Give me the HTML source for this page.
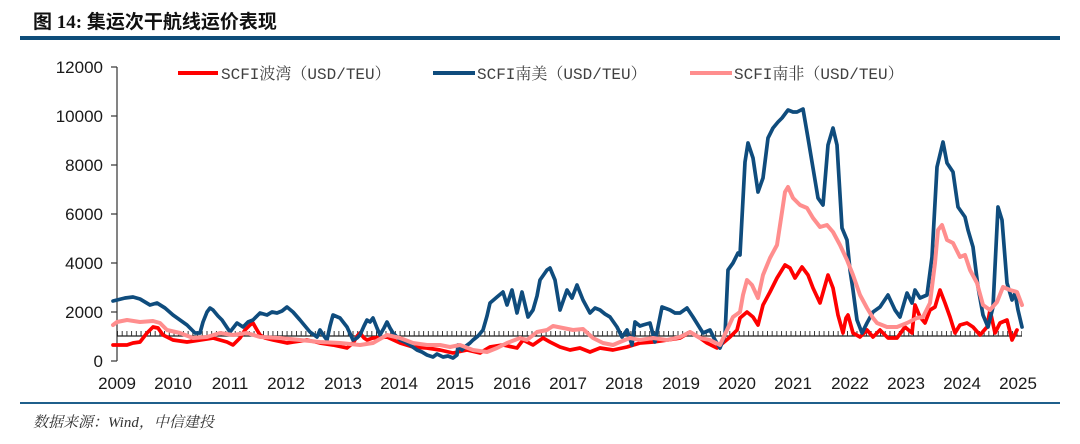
<!DOCTYPE html>
<html>
<head>
<meta charset="utf-8">
<style>
html,body{margin:0;padding:0;background:#fff;}
body{width:1080px;height:444px;overflow:hidden;}
svg{display:block;}
</style>
</head>
<body>
<svg width="1080" height="444" viewBox="0 0 1080 444" xmlns="http://www.w3.org/2000/svg">
<defs>
<pattern id="tk" patternUnits="userSpaceOnUse" x="117" y="331" width="4.71" height="5">
<line x1="0.5" y1="0" x2="0.5" y2="5" stroke="#222" stroke-width="0.9"/>
</pattern>
</defs>
<rect width="1080" height="444" fill="#fff"/>
<!-- title -->
<text x="33" y="28" font-family="'Liberation Serif','Noto Sans CJK SC',sans-serif" font-weight="bold" font-size="19" fill="#111">图 14: <tspan font-family="'Liberation Sans','Noto Sans CJK SC',sans-serif">集运次干航线运价表现</tspan></text>
<rect x="20" y="36" width="1040" height="4" fill="#0e4d7a"/>
<!-- legend -->
<g font-family="'Liberation Mono','Noto Serif CJK SC',monospace" font-size="16" fill="#404040">
<line x1="178" y1="73" x2="218" y2="73" stroke="#ff0000" stroke-width="4"/>
<text x="221" y="79">SCFI波湾（USD/TEU）</text>
<line x1="433" y1="73" x2="475" y2="73" stroke="#0f4c7d" stroke-width="4"/>
<text x="477" y="79">SCFI南美（USD/TEU）</text>
<line x1="690" y1="73" x2="732" y2="73" stroke="#ff8e8e" stroke-width="4"/>
<text x="734" y="79">SCFI南非（USD/TEU）</text>
</g>
<!-- y axis -->
<g stroke="#333" stroke-width="1.2">
<line x1="117" y1="67" x2="117" y2="361"/>
<line x1="111" y1="67" x2="117" y2="67"/>
<line x1="111" y1="116" x2="117" y2="116"/>
<line x1="111" y1="165" x2="117" y2="165"/>
<line x1="111" y1="214" x2="117" y2="214"/>
<line x1="111" y1="263" x2="117" y2="263"/>
<line x1="111" y1="312" x2="117" y2="312"/>
<line x1="111" y1="361" x2="117" y2="361"/>
</g>
<g font-family="'Liberation Sans',sans-serif" font-size="17" fill="#1a1a1a" text-anchor="end">
<text x="103" y="73">12000</text>
<text x="103" y="122">10000</text>
<text x="103" y="171">8000</text>
<text x="103" y="220">6000</text>
<text x="103" y="269">4000</text>
<text x="103" y="318">2000</text>
<text x="103" y="367">0</text>
</g>
<!-- x axis -->
<rect x="117" y="331" width="905" height="5" fill="url(#tk)"/>
<line x1="117" y1="336" x2="1022" y2="336" stroke="#222" stroke-width="1.3"/>
<g font-family="'Liberation Sans',sans-serif" font-size="17" fill="#1a1a1a" text-anchor="middle">
<text x="117" y="389">2009</text>
<text x="173" y="389">2010</text>
<text x="230" y="389">2011</text>
<text x="286" y="389">2012</text>
<text x="343" y="389">2013</text>
<text x="399" y="389">2014</text>
<text x="455" y="389">2015</text>
<text x="512" y="389">2016</text>
<text x="568" y="389">2017</text>
<text x="624" y="389">2018</text>
<text x="681" y="389">2019</text>
<text x="737" y="389">2020</text>
<text x="793" y="389">2021</text>
<text x="850" y="389">2022</text>
<text x="906" y="389">2023</text>
<text x="962" y="389">2024</text>
<text x="1018" y="389">2025</text>
</g>
<!-- series -->
<g fill="none" stroke-linejoin="round" stroke-linecap="round">
<polyline stroke="#ff0000" stroke-width="3.7" points="113,345 127,345 133,343 140,342 147,333 153,327 158,328 163,335 173,340 187,342 200,340 213,338 227,342 233,345 240,338 245,330 250,325 253,323 257,330 260,335 265,338 273,340 287,343 293,342 307,340 320,343 333,345 347,348 353,343 358,335 360,333 364,338 367,340 373,338 387,337 400,343 413,347 427,348 440,350 453,353 467,350 480,353 490,347 503,345 517,348 523,340 533,345 543,338 550,342 560,347 570,350 580,348 590,352 600,348 613,350 627,347 640,343 653,342 667,340 680,338 690,332 700,338 707,343 717,348 723,343 730,337 737,330 740,318 747,312 753,317 758,325 763,305 770,292 777,278 785,265 790,268 795,278 802,267 808,275 813,288 820,303 828,275 833,288 838,315 843,333 846,318 848,315 853,333 860,337 867,330 873,337 880,330 888,338 897,338 905,327 912,333 915,305 920,317 925,323 930,310 935,307 940,290 945,303 950,317 955,333 960,325 967,323 973,327 980,335 987,327 990,310 995,333 1000,323 1007,320 1012,340 1017,330"/>
<polyline stroke="#0f4c7d" stroke-width="3.7" points="113,301 117,300 125,298 133,297 140,299 150,305 157,303 165,308 173,315 180,320 187,325 195,333 200,333 203,322 207,312 210,308 213,310 218,316 222,320 230,332 237,323 243,327 248,322 253,320 260,313 267,315 272,312 277,313 282,311 287,307 293,312 300,320 305,326 310,332 317,337 320,330 324,336 327,340 330,326 333,315 340,318 347,327 353,340 357,338 360,335 364,326 367,320 370,322 373,318 377,328 380,335 384,328 387,322 390,328 393,333 400,340 405,342 410,345 417,350 422,352 427,355 433,357 437,354 443,357 448,356 453,358 457,355 458,345 462,350 466,346 470,343 473,340 478,336 483,330 487,316 490,303 497,297 503,292 507,305 512,290 517,313 522,292 528,317 533,310 537,296 540,280 547,270 550,268 555,280 560,310 567,290 572,298 577,285 583,300 590,313 595,308 600,310 605,314 610,317 617,327 622,337 627,330 632,345 635,322 640,326 643,325 650,323 655,342 662,307 670,310 675,313 680,313 687,308 693,317 698,325 703,333 710,330 715,340 720,348 725,335 728,270 733,263 738,253 740,255 745,162 748,143 753,158 758,192 763,178 768,138 773,128 778,122 782,118 788,110 793,112 797,112 803,109 808,138 813,168 818,198 823,205 828,145 833,128 837,145 842,228 847,240 850,270 853,290 857,320 862,333 867,323 873,312 880,307 888,295 895,310 900,317 907,293 912,303 915,290 920,298 927,295 932,257 937,167 943,142 947,163 953,172 958,207 965,217 968,230 973,247 978,287 983,315 988,327 993,307 998,207 1002,220 1007,283 1012,300 1015,293 1018,310 1022,327"/>
<polyline stroke="#ff8e8e" stroke-width="4" points="113,325 117,322 127,320 140,322 153,321 160,323 167,330 180,333 193,338 207,337 220,333 233,335 247,333 260,337 280,338 300,340 320,342 340,343 360,345 373,343 387,335 400,338 413,343 427,345 440,345 450,347 460,345 473,350 487,352 497,348 507,343 520,338 527,340 537,332 547,330 553,326 563,328 573,330 583,329 593,338 603,343 613,345 620,342 630,338 640,340 653,338 667,340 680,337 690,332 700,338 710,340 720,345 727,330 733,317 740,312 743,295 747,280 752,285 758,298 763,275 770,258 777,245 782,212 785,192 788,187 793,198 800,205 807,208 813,218 820,227 827,225 833,232 840,245 847,260 853,275 860,295 867,308 873,318 877,323 887,327 897,327 907,323 917,318 923,317 930,303 935,263 938,230 942,225 947,240 953,243 960,257 965,255 970,270 977,283 983,305 990,310 997,302 1003,287 1010,290 1017,292 1022,305"/>
</g>
<!-- bottom rule & source -->
<rect x="20" y="402" width="1040" height="2" fill="#1f5f8b"/>
<text x="33" y="427" font-family="'Liberation Serif','Noto Serif CJK SC',serif" font-style="italic" font-size="15" fill="#333">数据来源：Wind，中信建投</text>
</svg>
</body>
</html>
